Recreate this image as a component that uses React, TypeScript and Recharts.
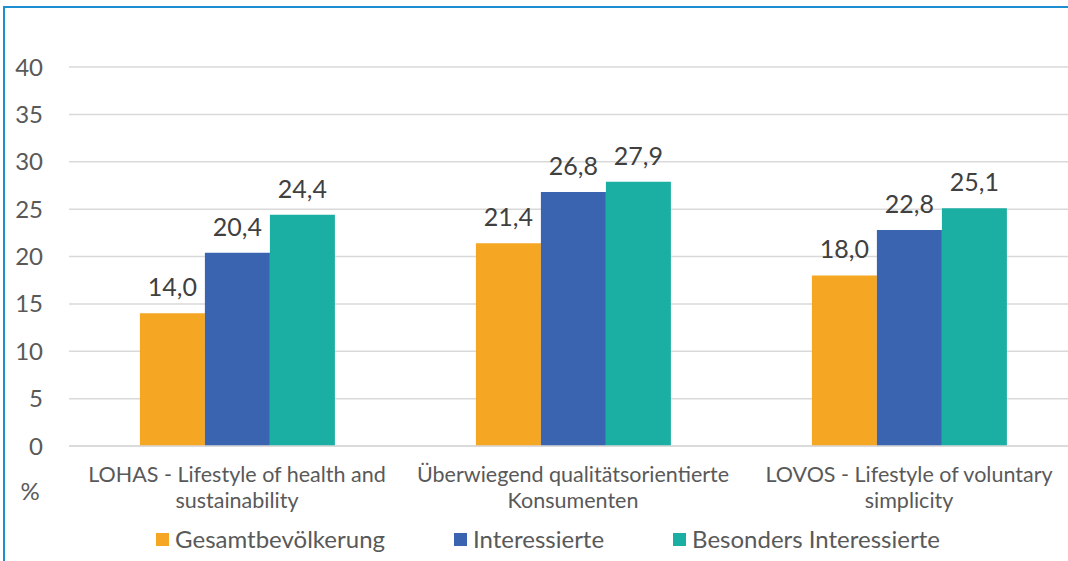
import React from 'react';
import { BarChart, Bar, XAxis, YAxis, CartesianGrid, Legend, LabelList } from 'recharts';

const categories = [
  'LOHAS - Lifestyle of health and\nsustainability',
  'Überwiegend qualitätsorientierte\nKonsumenten',
  'LOVOS - Lifestyle of voluntary\nsimplicity',
];
const gesamt = [14.0, 21.4, 18.0];
const interessierte = [20.4, 26.8, 22.8];
const besonders = [24.4, 27.9, 25.1];
const yTicks = [0, 5, 10, 15, 20, 25, 30, 35, 40];

const seriesDefs = [
  { key: 'gesamt', name: 'Gesamtbevölkerung', color: '#F5A623' },
  { key: 'interessierte', name: 'Interessierte', color: '#3A64AF' },
  { key: 'besonders', name: 'Besonders Interessierte', color: '#1BAEA2' },
];

const data = categories.map((c, i) => ({
  category: c,
  gesamt: gesamt[i],
  interessierte: interessierte[i],
  besonders: besonders[i],
}));

const FONT = 'Lato, "Open Sans", sans-serif';
const fmt = (v: any) => Number(v).toFixed(1).replace('.', ',');

const CategoryTick = (props: any) => {
  const { x, y, payload } = props;
  const lines = String(payload.value).split('\n');
  return (
    <g>
      {lines.map((l: string, i: number) => (
        <text key={i} x={x} y={y + 28 + i * 25.5} textAnchor="middle" fill="#595959" fontSize={21.5} fontFamily={FONT}>
          {l}
        </text>
      ))}
    </g>
  );
};

const LegendContent = () => (
  <div style={{ display: 'flex', justifyContent: 'center', fontFamily: FONT, fontSize: 24, color: '#595959', lineHeight: '28px' }}>
    {seriesDefs.map((s, i) => (
      <div key={s.key} style={{ display: 'flex', alignItems: 'center', marginRight: i < 2 ? 69 : 0 }}>
        <span style={{ display: 'inline-block', width: 13, height: 13, background: s.color, marginRight: 6 }} />
        <span>{s.name}</span>
      </div>
    ))}
  </div>
);

export default function App() {
  return (
    <div style={{ position: 'absolute', left: 0, top: 0, width: 1068, height: 561, overflow: 'hidden', background: '#fff' }}>
      <div style={{ position: 'absolute', left: 3, top: 6, width: 1100, height: 600, border: '2px solid #1C8FD3', boxSizing: 'border-box' }} />
      <div style={{ position: 'absolute', left: 0, top: 0 }}>
        <BarChart
          width={1080}
          height={561}
          data={data}
          margin={{ top: 67, right: 3, left: 9, bottom: 0 }}
          barGap={0}
          barCategoryGap="21.1%"
        >
          <CartesianGrid vertical={false} stroke="#D9D9D9" strokeWidth={1.5} />
          <XAxis
            dataKey="category"
            axisLine={{ stroke: '#D9D9D9', strokeWidth: 1.5 }}
            tickLine={false}
            tick={<CategoryTick />}
            interval={0}
            height={87}
          />
          <YAxis
            domain={[0, 40]}
            ticks={yTicks}
            width={60}
            axisLine={false}
            tickLine={false}
            tickSize={0}
            tickMargin={26}
            tick={{ fill: '#595959', fontSize: 24, fontFamily: FONT }}
            label={({ viewBox }: any) => (
              <text x={viewBox.x + 21} y={viewBox.y + viewBox.height + 54} textAnchor="middle" fill="#595959" fontSize={24} fontFamily={FONT}>
                %
              </text>
            )}
          />
          <Legend
            verticalAlign="bottom"
            content={<LegendContent />}
            wrapperStyle={{ left: 0, width: 1068, bottom: 8, paddingLeft: 14 }}
          />
          {seriesDefs.map((s) => (
            <Bar key={s.key} dataKey={s.key} name={s.name} fill={s.color} isAnimationActive={false}>
              <LabelList dataKey={s.key} position="top" offset={17} formatter={fmt} fill="#404040" fontSize={25} fontFamily={FONT} />
            </Bar>
          ))}
        </BarChart>
      </div>
    </div>
  );
}
